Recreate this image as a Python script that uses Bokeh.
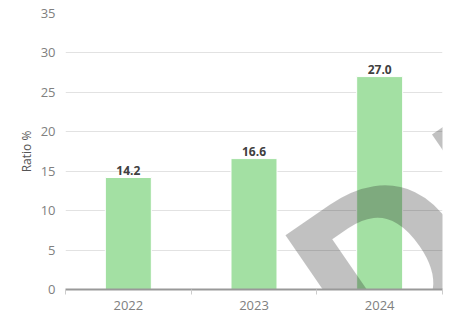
from bokeh.plotting import figure
from bokeh.models import ColumnDataSource, FixedTicker
from bokeh.core.properties import value
from bokeh.embed import file_html
from bokeh.resources import INLINE

categories = ["2022", "2023", "2024"]
ratios = [14.2, 16.6, 27.0]
y_ticks = [0, 5, 10, 15, 20, 25, 30, 35]
watermark = "DRAFT"

xs = [i + 0.5 for i in range(len(categories))]
labels = [f"{v:.1f}" for v in ratios]
src = ColumnDataSource(dict(x=xs, top=ratios, label=labels))

p = figure(width=449, height=329, x_range=(0, len(categories)), y_range=(0, 35),
           output_backend="svg", toolbar_location=None,
           min_border_left=65, min_border_right=7, min_border_top=13, min_border_bottom=40)
p.outline_line_color = None
p.background_fill_color = "white"

p.vbar(x="x", top="top", width=0.366, bottom=0, source=src,
       fill_color="#a3e0a3", line_color="white", line_width=1)

p.text(x="x", y="top", text="label", source=src,
       text_align="center", text_baseline="bottom", y_offset=-3,
       text_font=value("Open Sans"), text_font_size="12px",
       text_font_style="bold", text_color="#404040")

# axes
p.xaxis.ticker = FixedTicker(ticks=xs, minor_ticks=list(range(len(categories) + 1)))
p.xaxis.major_label_overrides = {x: c for x, c in zip(xs, categories)}
p.xaxis.major_tick_line_color = None
p.xaxis.major_tick_out = 0
p.xaxis.major_tick_in = 0
p.xaxis.minor_tick_line_color = "#cccccc"
p.xaxis.minor_tick_out = 5
p.xaxis.minor_tick_in = 0
p.xaxis.axis_line_color = "#999999"
p.xaxis.axis_line_width = 2
p.xaxis.major_label_standoff = 6
p.xaxis.major_label_text_font = "Open Sans"
p.xaxis.major_label_text_font_size = "13px"
p.xaxis.major_label_text_color = "#808080"

p.yaxis.ticker = FixedTicker(ticks=y_ticks)
p.yaxis.axis_line_color = None
p.yaxis.major_tick_line_color = None
p.yaxis.minor_tick_line_color = None
p.yaxis.major_tick_out = 0
p.yaxis.major_label_standoff = 10
p.yaxis.major_label_text_font = "Open Sans"
p.yaxis.major_label_text_font_size = "13px"
p.yaxis.major_label_text_color = "#808080"
p.yaxis.axis_label = "Ratio %"
p.yaxis.axis_label_standoff = 3
p.yaxis.axis_label_text_font = "Open Sans"
p.yaxis.axis_label_text_font_size = "12px"
p.yaxis.axis_label_text_font_style = "normal"
p.yaxis.axis_label_text_color = "#555555"

p.xgrid.grid_line_color = None
p.ygrid.grid_line_color = "#e2e2e2"
p.ygrid.grid_line_width = 1

# watermark
p.text(x=[1.96], y=[-2.8], text=[watermark], angle=34.5, angle_units="deg",
       text_align="left", text_baseline="alphabetic",
       text_font=value("Open Sans"), text_font_size="240px", text_font_style="bold",
       text_color="#1a1a1a", text_alpha=0.27)

open("out.html", "w").write(file_html(p, INLINE))
